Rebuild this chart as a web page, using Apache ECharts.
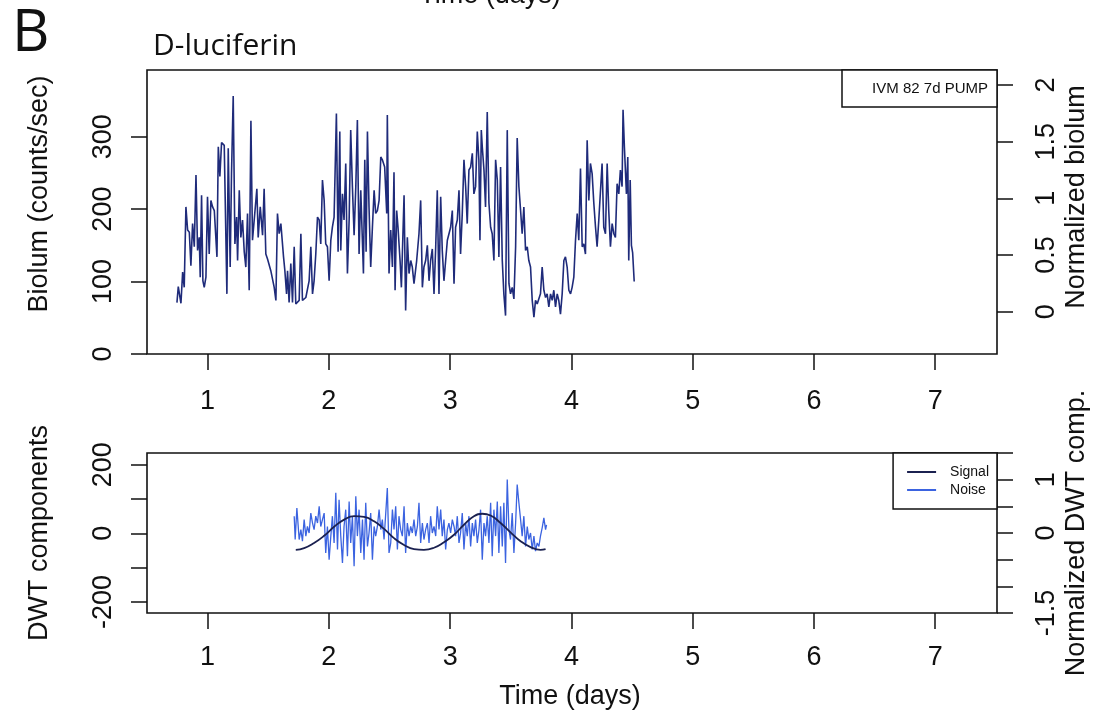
<!DOCTYPE html>
<html>
<head>
<meta charset="utf-8">
<script src="https://cdn.jsdelivr.net/npm/echarts@6/dist/echarts.min.js"></script>
<style>
html, body { margin: 0; padding: 0; background: #fff; }
#chart { width: 1093px; height: 711px; }
</style>
</head>
<body>
<div id="chart"></div>
<script>
// top panel: bioluminescence (counts/sec) vs time (days)
var bioDays = [0.747,0.758,0.780,0.794,0.807,0.821,0.835,0.849,0.862,0.876,0.890,0.904,0.917,0.931,0.939,0.950,0.961,0.972,0.986,0.999,
  1.013,1.027,1.041,1.055,1.077,1.088,1.101,1.115,1.137,1.159,1.170,1.186,1.197,1.211,1.225,1.239,1.247,1.261,1.274,1.288,
  1.302,1.315,1.329,1.343,1.357,1.370,1.384,1.406,1.417,1.434,1.453,1.466,1.480,1.494,1.508,1.521,1.549,1.563,1.576,1.590,
  1.604,1.626,1.637,1.651,1.659,1.672,1.686,1.700,1.714,1.727,1.741,1.755,1.769,1.782,1.810,1.837,1.851,1.865,1.878,1.892,
  1.906,1.920,1.933,1.947,1.961,1.974,1.988,2.002,2.016,2.029,2.043,2.062,2.076,2.090,2.098,2.112,2.125,2.139,2.153,2.167,
  2.180,2.194,2.208,2.222,2.235,2.249,2.263,2.285,2.296,2.307,2.318,2.331,2.345,2.359,2.373,2.386,2.400,2.414,2.428,
  2.441,2.460,2.477,2.482,2.496,2.510,2.524,2.537,2.546,2.559,2.570,2.587,2.598,2.620,2.633,2.647,2.661,2.675,2.688,2.702,
  2.724,2.743,2.757,2.771,2.784,2.798,2.812,2.826,2.839,2.853,2.867,2.881,2.894,2.908,2.922,2.935,2.949,2.963,2.977,3.004,
  3.018,3.032,3.045,3.059,3.073,3.086,3.100,3.114,3.128,3.141,3.155,3.169,3.183,3.196,3.210,3.224,3.237,3.246,3.257,3.265,
  3.279,3.292,3.306,3.320,3.334,3.347,3.361,3.375,3.389,3.402,3.416,3.430,3.443,3.457,3.471,3.485,3.498,3.512,3.526,3.540,
  3.553,3.567,3.581,3.594,3.608,3.622,3.636,3.649,3.663,3.677,3.691,3.704,3.718,3.732,3.745,3.759,3.773,3.787,3.800,3.814,
  3.828,3.842,3.855,3.869,3.883,3.896,3.910,3.924,3.938,3.951,3.965,3.979,3.993,4.006,4.020,4.034,4.048,4.061,4.075,4.089,
  4.102,4.116,4.130,4.144,4.157,4.171,4.185,4.199,4.212,4.226,4.240,4.253,4.267,4.281,4.295,4.308,4.322,4.336,4.350,4.363,
  4.377,4.391,4.404,4.418,4.426,4.437,4.454,4.465,4.473,4.485,4.495,4.505,4.518];
var bioCounts = [71,93,70,113,92,203,171,168,122,180,148,247,143,161,106,219,101,92,106,217,
  138,212,203,198,134,286,245,292,288,83,284,120,249,356,152,189,129,226,161,185,
  141,120,194,88,322,157,159,228,161,203,164,228,138,131,129,115,92,74,194,166,
  180,134,115,83,115,71,125,71,148,69,67,74,166,74,78,101,148,83,101,138,
  189,185,152,240,212,152,148,101,157,175,189,332,141,307,143,221,185,263,111,185,
  309,231,164,231,323,138,226,111,268,141,307,203,120,175,226,194,198,212,272,
  268,258,194,330,111,171,120,251,88,198,175,129,92,219,60,161,111,129,120,97,
  129,166,212,92,120,129,150,101,129,145,83,148,226,83,217,143,101,129,157,175,
  198,97,175,185,226,138,194,268,231,180,254,258,277,221,231,307,268,157,309,286,
  254,203,334,208,175,166,129,268,240,134,258,129,83,53,309,97,83,92,76,148,
  298,231,198,166,203,143,148,129,120,74,51,74,69,69,83,120,88,78,83,65,
  83,74,88,65,83,74,55,83,129,134,120,88,83,92,106,157,194,157,256,148,
  152,138,295,212,263,249,208,175,148,185,185,263,175,166,263,198,148,180,166,161,
  235,221,254,231,337,286,221,272,129,240,150,140,100];

// bottom panel: DWT components
var signalDays = [1.727,1.796,1.878,1.961,2.043,2.126,2.208,2.290,2.373,2.455,2.537,2.620,2.702,2.784,
  2.867,2.949,3.032,3.114,3.196,3.265,3.334,3.416,3.498,3.581,3.663,3.745,3.787];
var signalVals = [-48,-43,-28,-7,19,40,50,48,35,13,-14,-34,-46,-48,
  -42,-26,-4,25,50,57,52,30,3,-23,-40,-48,-46];

var noiseDays = [1.714,1.722,1.736,1.755,1.769,1.782,1.796,1.810,1.823,1.837,1.851,1.865,1.878,1.892,1.906,1.920,1.933,1.947,1.961,1.974,
  1.988,2.002,2.016,2.029,2.043,2.057,2.071,2.084,2.098,2.112,2.125,2.139,2.153,2.167,2.180,2.194,2.208,2.222,2.235,2.249,
  2.263,2.277,2.290,2.304,2.318,2.331,2.345,2.359,2.373,2.386,2.400,2.414,2.428,2.441,2.455,2.469,2.482,2.496,2.510,2.524,
  2.537,2.551,2.565,2.578,2.592,2.606,2.620,2.633,2.647,2.661,2.675,2.688,2.702,2.716,2.730,2.743,2.757,2.771,2.784,2.798,
  2.812,2.826,2.839,2.853,2.867,2.881,2.894,2.908,2.922,2.935,2.949,2.963,2.977,2.990,3.004,3.018,3.032,3.045,3.059,3.073,
  3.086,3.100,3.114,3.128,3.141,3.155,3.169,3.183,3.196,3.210,3.224,3.238,3.251,3.265,3.279,3.292,3.306,3.320,3.334,3.347,
  3.361,3.375,3.389,3.402,3.416,3.430,3.443,3.457,3.471,3.485,3.498,3.512,3.526,3.540,3.553,3.567,3.581,3.594,3.608,3.622,
  3.636,3.649,3.663,3.677,3.691,3.704,3.718,3.732,3.745,3.759,3.773,3.787,3.795];
var noiseVals = [50,-18,74,-18,11,-23,40,-8,20,1,59,30,11,50,30,79,20,40,59,-57,
  20,-77,-8,50,-28,118,-47,98,-8,-86,20,69,-67,93,-28,50,-96,108,-8,69,
  -57,40,-77,89,-38,1,59,-77,20,-8,20,69,11,40,-18,59,132,-57,-28,69,
  11,79,-47,50,11,-8,79,-57,30,-8,20,1,40,-8,20,89,-28,30,-18,11,
  30,-28,50,1,20,-8,79,11,69,-8,40,-47,11,30,1,40,20,-8,50,-28,
  1,59,-47,30,-8,50,-38,30,-8,40,-28,11,69,-77,30,-8,50,-28,89,-67,
  69,-8,93,-57,79,-38,89,-86,157,11,-18,59,-57,30,142,89,40,-8,50,-38,
  20,-18,1,-47,-8,-52,-28,-38,-8,16,45,11,25];

// axis ticks / labels
var dayTicks = [1, 2, 3, 4, 5, 6, 7];
var bioTicks = [0, 100, 200, 300];
var normBioTicks = [0, 0.5, 1, 1.5, 2];
var dwtTicks = [-200, -100, 0, 100, 200];
var dwtLabels = [-200, 0, 200];
var normDwtTicks = [-1.5, -1, -0.5, 0, 0.5, 1, 1.5];
var normDwtLabels = [-1.5, 0, 1];

function pairs(xs, ys) {
  return xs.map(function (x, i) { return [x, ys[i]]; });
}

var FONT = '"Liberation Sans", Arial, sans-serif';
var tick = { show: true, inside: false, length: 16, lineStyle: { color: '#111', width: 1.5 } };

function xAxisFor(gi, margin) {
  return {
    type: 'value', gridIndex: gi, min: 0.5, max: 7.51,
    axisLine: { show: false, onZero: false }, splitLine: { show: false },
    axisTick: Object.assign({ customValues: dayTicks }, tick),
    axisLabel: { customValues: dayTicks, margin: margin, fontSize: 27, color: '#111', fontFamily: FONT }
  };
}
function yAxisFor(gi, pos, min, max, ticks, labels, margin) {
  return {
    type: 'value', gridIndex: gi, position: pos, min: min, max: max,
    axisLine: { show: false, onZero: false }, splitLine: { show: false },
    axisTick: Object.assign({ customValues: ticks }, tick),
    axisLabel: { customValues: labels, rotate: 90, margin: margin, fontSize: 27, color: '#111', fontFamily: FONT }
  };
}

function vText(x, y, txt) {
  return {
    type: 'text', x: x, y: y, rotation: Math.PI / 2,
    style: { text: txt, font: '27px ' + FONT, fill: '#111', textAlign: 'center', textVerticalAlign: 'middle' }
  };
}

var chart = echarts.init(document.getElementById('chart'));
chart.setOption({
  animation: false,
  backgroundColor: '#fff',
  title: {
    text: 'D-luciferin', left: 153, top: 31, padding: 0,
    textStyle: { fontFamily: '"Open Sans", sans-serif', fontSize: 30, fontWeight: 'normal', color: '#111' }
  },
  grid: [
    { left: 147, right: 96, top: 70, height: 284, show: true, borderColor: '#111', borderWidth: 1.6, backgroundColor: 'transparent' },
    { left: 147, right: 96, top: 453, height: 160, show: true, borderColor: '#111', borderWidth: 1.6, backgroundColor: 'transparent' }
  ],
  xAxis: [xAxisFor(0, 34), xAxisFor(1, 31)],
  yAxis: [
    yAxisFor(0, 'left', 0, 392, bioTicks, bioTicks, 30),
    yAxisFor(0, 'right', -0.374, 2.1325, normBioTicks, normBioTicks, 36),
    yAxisFor(1, 'left', -232, 234, dwtTicks, dwtLabels, 30),
    yAxisFor(1, 'right', -1.5, 1.5, normDwtTicks, normDwtLabels, 36)
  ],
  legend: {
    data: ['Signal', 'Noise'], icon: 'rect',
    right: 96, top: 453, orient: 'vertical', align: 'left',
    backgroundColor: '#fff', borderColor: '#111', borderWidth: 1.5, borderRadius: 0,
    padding: [12, 8, 12, 14], itemWidth: 29, itemHeight: 2, itemGap: 4,
    textStyle: { fontSize: 14, color: '#111', fontFamily: FONT, padding: [0, 0, 0, 9] }
  },
  graphic: [
    { type: 'text', x: 12, y: 34, style: { text: 'B', font: '58px "Open Sans", sans-serif', fill: '#111', textVerticalAlign: 'middle' } },
    { type: 'text', x: 490, y: 9, style: { text: 'Time (days)', font: '27px ' + FONT, fill: '#111', textAlign: 'center', textVerticalAlign: 'bottom' } },
    vText(40, 194, 'Biolum (counts/sec)'),
    vText(1077, 197, 'Normalized biolum'),
    vText(40, 533, 'DWT components'),
    vText(1077, 533, 'Normalized DWT comp.'),
    { type: 'text', x: 570, y: 697, style: { text: 'Time (days)', font: '27px ' + FONT, fill: '#111', textAlign: 'center', textVerticalAlign: 'middle' } },
    { type: 'rect', shape: { x: 842, y: 70, width: 155, height: 37 }, style: { fill: '#fff', stroke: '#111', lineWidth: 1.5 } },
    { type: 'text', x: 988, y: 89, style: { text: 'IVM 82 7d PUMP', font: '15px ' + FONT, fill: '#111', textAlign: 'right', textVerticalAlign: 'middle' } }
  ],
  series: [
    {
      name: 'IVM 82 7d PUMP', type: 'line', xAxisIndex: 0, yAxisIndex: 0,
      data: pairs(bioDays, bioCounts), symbol: 'none', lineStyle: { color: '#1f2b7a', width: 1.6 }
    },
    {
      name: 'Noise', type: 'line', xAxisIndex: 1, yAxisIndex: 2,
      data: pairs(noiseDays, noiseVals), symbol: 'none', itemStyle: { color: '#3b63e0' }, lineStyle: { color: '#3b63e0', width: 1.3 }
    },
    {
      name: 'Signal', type: 'line', xAxisIndex: 1, yAxisIndex: 2, smooth: true,
      data: pairs(signalDays, signalVals), symbol: 'none', itemStyle: { color: '#1b2150' }, lineStyle: { color: '#1b2150', width: 1.8 }
    }
  ]
});
</script>
</body>
</html>
